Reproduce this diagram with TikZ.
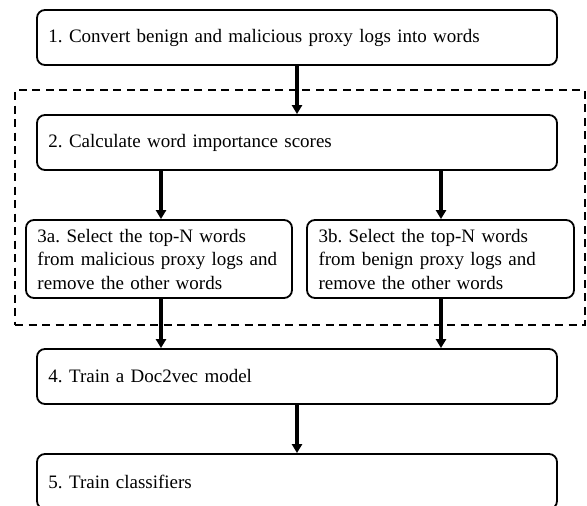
\documentclass[tikz,border=0pt]{standalone}
\usepackage{fontspec}
\setmainfont{Liberation Serif}
\usetikzlibrary{arrows.meta}
\frenchspacing
\tikzset{
  stepbox/.style={draw=black, line width=1.8pt, rounded corners=8pt, fill=white,
    inner xsep=11.5pt, inner ysep=0pt, align=left, anchor=center,
    font=\fontsize{19}{23.5}\selectfont},
  arr/.style={line width=3.2pt, -{Triangle[length=9pt,width=10pt]}},
  grp/.style={draw=black, line width=2pt, dash pattern=on 8pt off 5.5pt}
}
\begin{document}
\begin{tikzpicture}[x=1pt,y=-1pt]
\useasboundingbox (0,0) rectangle (587,506);
\clip (0,0) rectangle (587,506);
\node[grp, minimum width=570pt, minimum height=235pt, inner sep=0pt] (grp) at (300,207.5) {};
\node[stepbox, text width=497pt, minimum height=55pt] (b1) at (297,37.5) {1. Convert benign and malicious proxy logs into words};
\node[stepbox, text width=497pt, minimum height=55pt] (b2) at (297,142.5) {2. Calculate word importance scores};
\node[stepbox, text width=243pt, minimum height=78pt] (b3a) at (159,259) {\mbox{3a. Select the top-N words}\\\mbox{from malicious proxy logs and}\\\mbox{remove the other words}};
\node[stepbox, text width=244pt, minimum height=78pt] (b3b) at (440.5,259) {\mbox{3b. Select the top-N words}\\\mbox{from benign proxy logs and}\\\mbox{remove the other words}};
\node[stepbox, text width=497pt, minimum height=55pt] (b4) at (297,376.5) {4. Train a Doc2vec model};
\node[stepbox, text width=497pt, minimum height=55pt] (b5) at (297,481.5) {5. Train classifiers};
\coordinate (xa) at (161,0);
\coordinate (xb) at (441,0);
\draw[arr] (b1.south) -- (b2.north);
\draw[arr] (b2.south -| xa) -- (b3a.north -| xa);
\draw[arr] (b2.south -| xb) -- (b3b.north -| xb);
\draw[arr] (b3a.south -| xa) -- (b4.north -| xa);
\draw[arr] (b3b.south -| xb) -- (b4.north -| xb);
\draw[arr] (b4.south) -- (b5.north);
\end{tikzpicture}
\end{document}
